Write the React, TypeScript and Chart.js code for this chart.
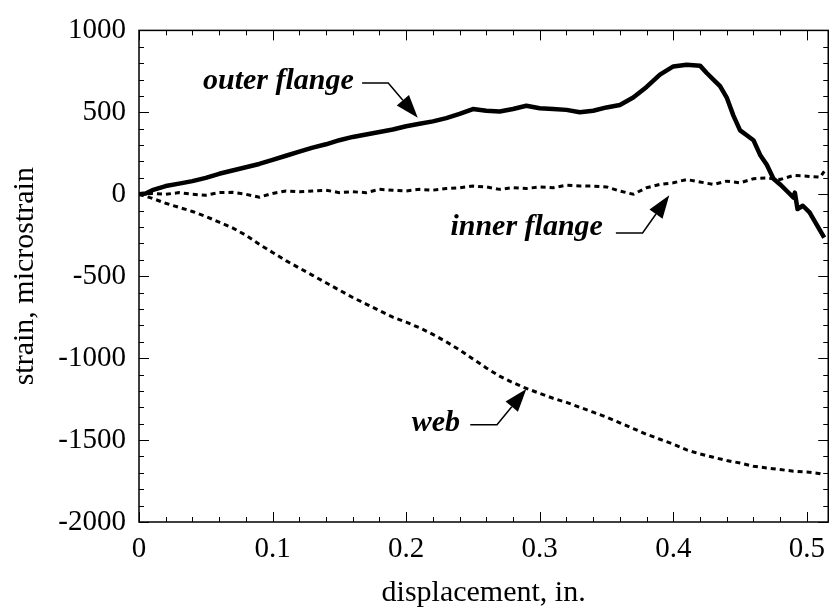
import React, { useEffect, useRef } from "react";
import { Chart, registerables } from "chart.js";

Chart.register(...registerables);

// ---- data ----
const outerFlangeX = [
  0, 0.005, 0.01, 0.02, 0.03, 0.04, 0.05, 0.06, 0.07, 0.08, 0.09, 0.1, 0.11, 0.12, 0.13, 0.14, 0.15,
  0.16, 0.17, 0.18, 0.19, 0.2, 0.21, 0.22, 0.23, 0.24, 0.25, 0.26, 0.27, 0.28, 0.29, 0.3, 0.31, 0.32,
  0.33, 0.34, 0.35, 0.36, 0.37, 0.38, 0.39, 0.4, 0.41, 0.42, 0.425, 0.43, 0.435, 0.44, 0.445, 0.45,
  0.455, 0.46, 0.465, 0.47, 0.475, 0.48, 0.485, 0.49, 0.491, 0.493, 0.497, 0.502, 0.507, 0.513,
];
const outerFlangeStrain = [
  0, 5, 25, 50, 65, 80, 100, 125, 145, 165, 185, 210, 235, 260, 285, 305, 330,
  350, 365, 380, 395, 415, 430, 445, 465, 490, 520, 510, 505, 520, 540, 525, 520, 515,
  500, 510, 530, 545, 590, 655, 730, 780, 790, 785, 740, 700, 660, 590, 480, 390,
  360, 330, 240, 180, 95, 60, 20, -20, 10, -90, -70, -110, -180, -265,
];

const innerFlangeX = [
  0, 0.01, 0.02, 0.03, 0.04, 0.05, 0.06, 0.07, 0.08, 0.09, 0.1, 0.11, 0.12, 0.13, 0.14, 0.15, 0.16,
  0.17, 0.18, 0.19, 0.2, 0.21, 0.22, 0.23, 0.24, 0.25, 0.26, 0.27, 0.28, 0.29, 0.3, 0.31, 0.32, 0.33,
  0.34, 0.35, 0.36, 0.37, 0.38, 0.39, 0.4, 0.41, 0.42, 0.43, 0.44, 0.45, 0.46, 0.47, 0.48, 0.49, 0.5,
  0.51, 0.513,
];
const innerFlangeStrain = [
  0, 5, 0, 10, 0, -6, 10, 12, 0, -18, 5, 20, 15, 20, 25, 10, 15,
  10, 30, 25, 20, 30, 25, 35, 40, 50, 45, 30, 40, 35, 45, 40, 55, 50,
  50, 45, 20, 0, 40, 60, 70, 90, 75, 60, 80, 70, 95, 100, 90, 115, 110,
  105, 140,
];

const webX = [
  0, 0.01, 0.02, 0.03, 0.04, 0.05, 0.06, 0.07, 0.08, 0.09, 0.1, 0.11, 0.12, 0.13, 0.14, 0.15, 0.16,
  0.17, 0.18, 0.19, 0.2, 0.21, 0.22, 0.23, 0.24, 0.25, 0.26, 0.27, 0.28, 0.29, 0.3, 0.31, 0.32, 0.33,
  0.34, 0.35, 0.36, 0.37, 0.38, 0.39, 0.4, 0.41, 0.42, 0.43, 0.44, 0.45, 0.46, 0.47, 0.48, 0.49, 0.5,
  0.51, 0.513,
];
const webStrain = [
  0, -25, -55, -80, -105, -135, -170, -205, -250, -305, -355, -405, -450, -495, -540, -585, -630,
  -670, -710, -750, -780, -815, -855, -900, -950, -1005, -1060, -1110, -1150, -1185, -1215, -1245, -1270, -1300,
  -1330, -1360, -1395, -1430, -1465, -1495, -1525, -1560, -1585, -1605, -1625, -1640, -1660, -1670, -1680, -1690, -1695,
  -1705, -1710,
];

// axes
const X_MIN = 0;
const X_MAX = 0.516;
const X_STEP = 0.1;
const X_MINOR = 0.02;
const Y_MIN = -2000;
const Y_MAX = 1000;
const Y_STEP = 500;
const Y_MINOR = 100;
const xTitle = "displacement, in.";
const yTitle = "strain, microstrain";

// annotations (data coordinates)
const annotationLabels = ["outer flange", "inner flange", "web"];
const annotationTextX = [0.1608, 0.3473, 0.2404]; // right end of text
const annotationTextY = [642, -248, -1442]; // baseline
const leaderStartX = [0.167, 0.357, 0.248];
const leaderStartY = [679, -236, -1406];
const leaderElbowX = [0.1866, 0.377, 0.268];
const leaderElbowY = [679, -236, -1406];
const leaderTipX = [0.2087, 0.397, 0.29];
const leaderTipY = [467, -6, -1188];

const FONT = '"Liberation Serif", "Times New Roman", Times, serif';

const decorPlugin = {
  id: "decor",
  afterDatasetsDraw(chart: any) {
    const { ctx, chartArea: a, scales } = chart;
    const xs = scales.x;
    const ys = scales.y;
    ctx.save();
    ctx.strokeStyle = "#000";
    ctx.fillStyle = "#000";
    // frame
    ctx.lineWidth = 1.5;
    ctx.strokeRect(a.left, a.top, a.right - a.left, a.bottom - a.top);
    // ticks
    ctx.lineWidth = 1;
    ctx.beginPath();
    const nx = Math.round((X_MAX - X_MIN) / X_MINOR);
    for (let i = 0; i <= nx; i++) {
      const v = X_MIN + i * X_MINOR;
      if (v > X_MAX + 1e-9) break;
      const major = i % Math.round(X_STEP / X_MINOR) === 0;
      const len = major ? 10 : 5;
      const px = Math.round(xs.getPixelForValue(v)) + 0.5;
      ctx.moveTo(px, a.bottom);
      ctx.lineTo(px, a.bottom - len);
      ctx.moveTo(px, a.top);
      ctx.lineTo(px, a.top + len);
    }
    const ny = Math.round((Y_MAX - Y_MIN) / Y_MINOR);
    for (let i = 0; i <= ny; i++) {
      const v = Y_MIN + i * Y_MINOR;
      const major = i % Math.round(Y_STEP / Y_MINOR) === 0;
      const len = major ? 10 : 5;
      const py = Math.round(ys.getPixelForValue(v)) + 0.5;
      ctx.moveTo(a.left, py);
      ctx.lineTo(a.left + len, py);
      ctx.moveTo(a.right, py);
      ctx.lineTo(a.right - len, py);
    }
    ctx.stroke();

    // annotations
    ctx.font = `italic bold 30px ${FONT}`;
    ctx.textAlign = "right";
    ctx.textBaseline = "alphabetic";
    for (let i = 0; i < annotationLabels.length; i++) {
      const tx = xs.getPixelForValue(annotationTextX[i]);
      const ty = ys.getPixelForValue(annotationTextY[i]);
      ctx.fillText(annotationLabels[i], tx, ty);

      const sx = xs.getPixelForValue(leaderStartX[i]);
      const sy = ys.getPixelForValue(leaderStartY[i]);
      const ex = xs.getPixelForValue(leaderElbowX[i]);
      const ey = ys.getPixelForValue(leaderElbowY[i]);
      const px = xs.getPixelForValue(leaderTipX[i]);
      const py = ys.getPixelForValue(leaderTipY[i]);
      const dx = px - ex;
      const dy = py - ey;
      const len = Math.hypot(dx, dy);
      const ux = dx / len;
      const uy = dy / len;
      const headLen = 23;
      const headHalf = 8;
      const bx = px - ux * headLen;
      const by = py - uy * headLen;
      ctx.lineWidth = 1.5;
      ctx.beginPath();
      ctx.moveTo(sx, sy);
      ctx.lineTo(ex, ey);
      ctx.lineTo(bx, by);
      ctx.stroke();
      ctx.beginPath();
      ctx.moveTo(px, py);
      ctx.lineTo(bx - uy * headHalf, by + ux * headHalf);
      ctx.lineTo(bx + uy * headHalf, by - ux * headHalf);
      ctx.closePath();
      ctx.fill();
    }
    ctx.restore();
  },
};

function toPoints(xs: number[], ys: number[]) {
  return xs.map((x, i) => ({ x, y: ys[i] }));
}

export default function App() {
  const canvasRef = useRef<HTMLCanvasElement | null>(null);

  useEffect(() => {
    const canvas = canvasRef.current;
    if (!canvas) return;
    const chart = new Chart(canvas, {
      type: "line",
      data: {
        datasets: [
          {
            label: "outer flange",
            data: toPoints(outerFlangeX, outerFlangeStrain),
            borderColor: "#000",
            borderWidth: 4.5,
            pointRadius: 0,
            tension: 0,
            borderJoinStyle: "round",
          },
          {
            label: "inner flange",
            data: toPoints(innerFlangeX, innerFlangeStrain),
            borderColor: "#000",
            borderWidth: 3,
            borderDash: [5, 4],
            pointRadius: 0,
            tension: 0,
          },
          {
            label: "web",
            data: toPoints(webX, webStrain),
            borderColor: "#000",
            borderWidth: 3,
            borderDash: [5, 4],
            pointRadius: 0,
            tension: 0,
          },
        ],
      },
      options: {
        animation: false,
        responsive: false,
        devicePixelRatio: 1,
        layout: { padding: { top: 27, right: -4, left: 0, bottom: 0 } },
        plugins: {
          legend: { display: false },
          tooltip: { enabled: false },
        },
        scales: {
          x: {
            type: "linear",
            min: X_MIN,
            max: X_MAX,
            border: { display: false },
            grid: { display: false, drawTicks: false, tickLength: 0 },
            ticks: {
              stepSize: X_STEP,
              includeBounds: false,
              autoSkip: false,
              maxRotation: 0,
              padding: 10,
              color: "#000",
              font: { family: FONT, size: 29 },
              callback: (v: any) => (Number(v) === 0 ? "0" : Number(v).toFixed(1)),
            },
            title: {
              display: true,
              text: xTitle,
              color: "#000",
              font: { family: FONT, size: 30, lineHeight: 1 },
              padding: { top: 0, bottom: 0 },
            },
            afterFit: (s: any) => {
              s.height = 86;
            },
          },
          y: {
            type: "linear",
            min: Y_MIN,
            max: Y_MAX,
            border: { display: false },
            grid: { display: false, drawTicks: false, tickLength: 0 },
            ticks: {
              stepSize: Y_STEP,
              autoSkip: false,
              padding: 13,
              color: "#000",
              font: { family: FONT, size: 29 },
              callback: (v: any) => String(v),
            },
            title: {
              display: true,
              text: yTitle,
              color: "#000",
              font: { family: FONT, size: 30, lineHeight: 1 },
              padding: { top: 10, bottom: 0 },
            },
            afterFit: (s: any) => {
              s.width = 139;
            },
          },
        },
      },
      plugins: [decorPlugin],
    });
    return () => chart.destroy();
  }, []);

  return (
    <div style={{ position: "absolute", left: 0, top: 0, width: 835, height: 608, background: "#fff" }}>
      <canvas ref={canvasRef} width={835} height={608} style={{ display: "block" }} />
    </div>
  );
}
